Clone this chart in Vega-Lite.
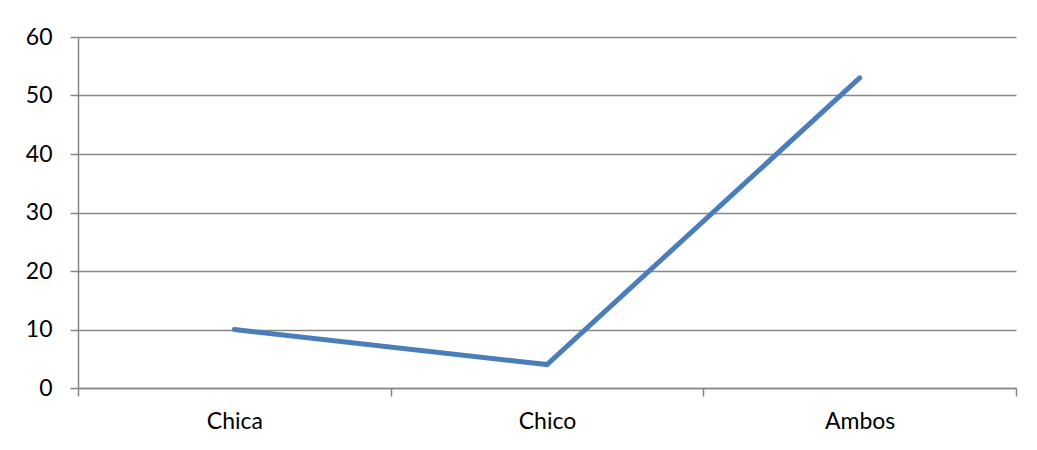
{
  "$schema": "https://vega.github.io/schema/vega-lite/v6.json",
  "width": 938,
  "height": 351,
  "autosize": {"type": "none"},
  "padding": {"left": 78, "top": 37, "right": 21, "bottom": 62},
  "background": "white",
  "config": {
    "view": {"stroke": null},
    "font": "Lato"
  },
  "data": {
    "values": [
      {"categoria": "Chica", "valor": 10},
      {"categoria": "Chico", "valor": 4},
      {"categoria": "Ambos", "valor": 53}
    ]
  },
  "mark": {"type": "line", "color": "#4a7ebb", "strokeWidth": 5, "strokeCap": "round"},
  "encoding": {
    "x": {
      "field": "categoria",
      "type": "nominal",
      "sort": ["Chica", "Chico", "Ambos"],
      "scale": {"type": "band", "paddingInner": 0, "paddingOuter": 0},
      "axis": {
        "title": null,
        "labelAngle": 0,
        "labelFont": "Lato",
        "labelFontSize": 23,
        "labelColor": "#000000",
        "labelPadding": 14,
        "tickBand": "extent",
        "tickSize": 8,
        "tickColor": "#868686",
        "tickWidth": 1.5,
        "domainColor": "#868686",
        "domainWidth": 1.5,
        "grid": false
      }
    },
    "y": {
      "field": "valor",
      "type": "quantitative",
      "scale": {"domain": [0, 60]},
      "axis": {
        "title": null,
        "values": [0, 10, 20, 30, 40, 50, 60],
        "labelFont": "Lato",
        "labelFontSize": 23,
        "labelColor": "#000000",
        "labelPadding": 18,
        "tickSize": 8,
        "tickColor": "#868686",
        "tickWidth": 1.5,
        "domainColor": "#868686",
        "domainWidth": 1.5,
        "grid": true,
        "gridColor": "#868686",
        "gridWidth": 1.5
      }
    }
  }
}
